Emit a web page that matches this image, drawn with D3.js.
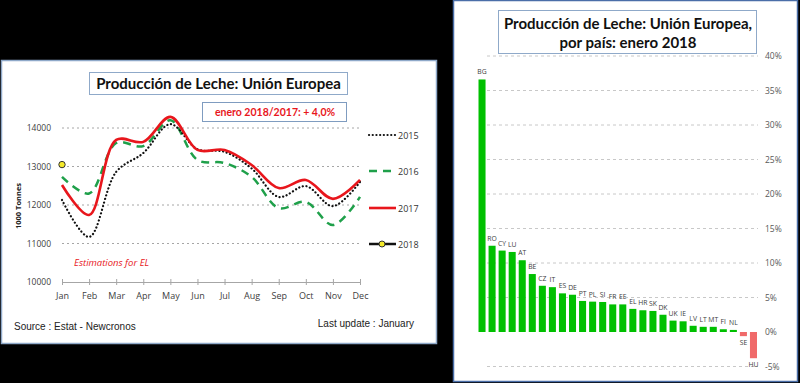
<!DOCTYPE html>
<html><head><meta charset="utf-8">
<script src="https://cdn.jsdelivr.net/npm/d3@7"></script>
<style>body{margin:0;background:#000;}svg{display:block;}</style>
</head><body>
<svg id="c" width="800" height="383"></svg>
<script>
// ---- Left chart data ----
const months = ["Jan","Feb","Mar","Apr","May","Jun","Jul","Aug","Sep","Oct","Nov","Dec"];
const s2015 = [12130,11170,12860,13350,14100,13450,13380,12950,12210,12490,11970,12600];
const s2016 = [12730,12300,13610,13530,14200,13170,13090,12730,11920,12080,11480,12210];
const s2017 = [12520,11740,13690,13640,14290,13430,13430,13040,12440,12650,12160,12650];
const s2018 = [13050];
const yTicks = [10000,11000,12000,13000,14000];
// ---- Right chart data ----
const countries = ["BG","RO","CY","LU","AT","BE","CZ","IT","ES","DE","PT","PL","SI","FR","EE","EL","HR","SK","DK","UK","IE","LV","LT","MT","FI","NL","SE","HU"];
const growth = [36.6,12.5,11.8,11.6,10.4,8.4,6.7,6.5,5.6,5.4,4.5,4.4,4.35,4.0,4.0,3.35,3.15,3.05,2.5,1.65,1.55,0.9,0.75,0.75,0.4,0.3,-0.6,-3.8];
const pctTicks = [-5,0,5,10,15,20,25,30,35,40];

const svg = d3.select("#c");
svg.append("rect").attr("width",800).attr("height",383).attr("fill","#000");

// ================= LEFT PANEL =================
const L = svg.append("g");
L.append("rect").attr("x",1.5).attr("y",60.5).attr("width",435).attr("height",283)
  .attr("fill","#fff").attr("stroke","#8fa9c9").attr("stroke-width",1.5);

const x = d3.scalePoint().domain(months).range([62,360]);
const y = d3.scaleLinear().domain([10000,14000]).range([282,128]);

// gridlines
L.append("g").selectAll("line").data(yTicks.filter(d=>d>10000)).join("line")
  .attr("x1",62).attr("x2",359).attr("y1",d=>y(d)).attr("y2",d=>y(d))
  .attr("stroke","#a6a6a6").attr("stroke-width",1).attr("stroke-dasharray","2,3");

// x axis
const xa = L.append("g").attr("transform","translate(0,"+y(10000)+")")
  .call(d3.axisBottom(x).tickSize(3).tickPadding(8));
xa.select(".domain").attr("stroke","#a6a6a6");
xa.selectAll(".tick line").attr("stroke","#a6a6a6").attr("y1",-3).attr("y2",3);
xa.selectAll("text").attr("font-family","Open Sans, sans-serif").attr("font-size",9).attr("fill","#404040");

// y labels
const ya = L.append("g").attr("transform","translate(56,0)")
  .call(d3.axisLeft(y).tickValues(yTicks).tickSize(0).tickPadding(5).tickFormat(d3.format("d")));
ya.select(".domain").remove();
ya.selectAll("text").attr("font-family","Open Sans, sans-serif").attr("font-size",8.5).attr("fill","#404040");

L.append("text").attr("transform","translate(21,206) rotate(-90)").attr("text-anchor","middle")
  .attr("font-family","Open Sans, sans-serif").attr("font-weight","bold").attr("font-size",7.5).attr("fill","#222")
  .text("1000 Tonnes");

const line = d3.line().x((d,i)=>x(months[i])).y(d=>y(d)).curve(d3.curveCatmullRom.alpha(0.5));
L.append("path").datum(s2016).attr("d",line).attr("fill","none")
  .attr("stroke","#1fa04a").attr("stroke-width",2.5).attr("stroke-dasharray","8,6");
L.append("path").datum(s2015).attr("d",line).attr("fill","none")
  .attr("stroke","#111").attr("stroke-width",2.2).attr("stroke-dasharray","0.1,3.6").attr("stroke-linecap","round");
L.append("path").datum(s2017).attr("d",line).attr("fill","none")
  .attr("stroke","#e8161c").attr("stroke-width",2.6);
L.selectAll("circle.p18").data(s2018).join("circle").attr("class","p18")
  .attr("cx",(d,i)=>x(months[i])).attr("cy",d=>y(d)).attr("r",3.2)
  .attr("fill","#f5ea2a").attr("stroke","#333").attr("stroke-width",1);

// legend
const leg = [
  {n:"2015", y:135, c:"#111", dash:"0.1,3.6", w:2.2, cap:"round"},
  {n:"2016", y:171, c:"#1fa04a", dash:"8,6", w:2.5, cap:"butt"},
  {n:"2017", y:208, c:"#e8161c", dash:null, w:2.6, cap:"butt"},
  {n:"2018", y:244, c:"#111", dash:null, w:2.5, cap:"butt", dot:true}
];
leg.forEach(l=>{
  L.append("line").attr("x1",369).attr("x2",396).attr("y1",l.y).attr("y2",l.y)
    .attr("stroke",l.c).attr("stroke-width",l.w).attr("stroke-dasharray",l.dash).attr("stroke-linecap",l.cap);
  if(l.dot) L.append("circle").attr("cx",382).attr("cy",l.y).attr("r",3)
    .attr("fill","#f5ea2a").attr("stroke","#333").attr("stroke-width",1);
  L.append("text").attr("x",398).attr("y",l.y+3.5).attr("font-family","Open Sans, sans-serif")
    .attr("font-size",9).attr("fill","#333").text(l.n);
});

// title boxes
L.append("rect").attr("x",89.5).attr("y",72.5).attr("width",258).attr("height",22)
  .attr("fill","#fff").attr("stroke","#8fa9c9").attr("stroke-width",1);
L.append("text").attr("x",218.5).attr("y",89).attr("text-anchor","middle")
  .attr("font-family","Lato, sans-serif").attr("font-weight","bold").attr("font-size",15).attr("fill","#111")
  .text("Producción de Leche: Unión Europea");
L.append("rect").attr("x",202.5).attr("y",102.5).attr("width",144).attr("height",19)
  .attr("fill","#fff").attr("stroke","#7f9cc0").attr("stroke-width",1);
L.append("text").attr("x",275).attr("y",116).attr("text-anchor","middle")
  .attr("font-family","Lato, sans-serif").attr("font-weight","bold").attr("font-size",10.5).attr("fill","#e8161c")
  .text("enero 2018/2017: + 4,0%");

L.append("text").attr("x",74).attr("y",266).attr("font-family","Open Sans, sans-serif")
  .attr("font-style","italic").attr("font-size",9.5).attr("fill","#e8161c").text("Estimations for  EL");
L.append("text").attr("x",14).attr("y",330).attr("font-family","Liberation Sans, Arial, sans-serif")
  .attr("font-size",10).attr("fill","#222").text("Source : Estat - Newcronos");
L.append("text").attr("x",414).attr("y",327).attr("text-anchor","end").attr("font-family","Liberation Sans, Arial, sans-serif")
  .attr("font-size",10).attr("fill","#222").text("Last update : January");

// ================= RIGHT PANEL =================
const R = svg.append("g");
R.append("rect").attr("x",453.5).attr("y",0.5).attr("width",344).attr("height",381)
  .attr("fill","#fff").attr("stroke","#4a6ea8").attr("stroke-width",1.5);

const xb = d3.scaleBand().domain(countries).range([477.5,758]).paddingInner(0.3).paddingOuter(0.1);
const yb = d3.scaleLinear().domain([-5,40]).range([366.5,56]);

R.append("g").selectAll("line").data(pctTicks.filter(d=>d!==0)).join("line")
  .attr("x1",487).attr("x2",758).attr("y1",d=>yb(d)).attr("y2",d=>yb(d))
  .attr("stroke","#c8c8c8").attr("stroke-width",1).attr("stroke-dasharray","3,3");

const ra = R.append("g").attr("transform","translate(762,0)")
  .call(d3.axisRight(yb).tickValues(pctTicks).tickSize(0).tickPadding(3).tickFormat(d=>d+"%"));
ra.select(".domain").remove();
ra.selectAll("text").attr("font-family","Open Sans, sans-serif").attr("font-size",8.5).attr("fill","#595959");

R.selectAll("rect.bar").data(growth).join("rect").attr("class","bar")
  .attr("x",(d,i)=>xb(countries[i])).attr("width",xb.bandwidth())
  .attr("y",d=>yb(Math.max(0,d))).attr("height",d=>Math.abs(yb(d)-yb(0)))
  .attr("fill",d=>d>=0?"#00c000":"#f06a6a");

R.selectAll("text.lab").data(growth).join("text").attr("class","lab")
  .attr("x",(d,i)=>xb(countries[i])+xb.bandwidth()/2)
  .attr("y",d=>d>=0?yb(d)-5:yb(d)+9)
  .attr("text-anchor","middle").attr("font-family","Open Sans, sans-serif").attr("font-size",6.8).attr("fill","#404040")
  .text((d,i)=>countries[i]);

R.append("rect").attr("x",498.5).attr("y",10.5).attr("width",258).attr("height",43)
  .attr("fill","#fff").attr("stroke","#8fa9c9").attr("stroke-width",1);
R.append("text").attr("x",628).attr("y",29).attr("text-anchor","middle")
  .attr("font-family","Lato, sans-serif").attr("font-weight","bold").attr("font-size",15).attr("fill","#111")
  .text("Producción de Leche: Unión Europea,");
R.append("text").attr("x",628).attr("y",48).attr("text-anchor","middle")
  .attr("font-family","Lato, sans-serif").attr("font-weight","bold").attr("font-size",15).attr("fill","#111")
  .text("por país: enero 2018");
</script>
</body></html>
